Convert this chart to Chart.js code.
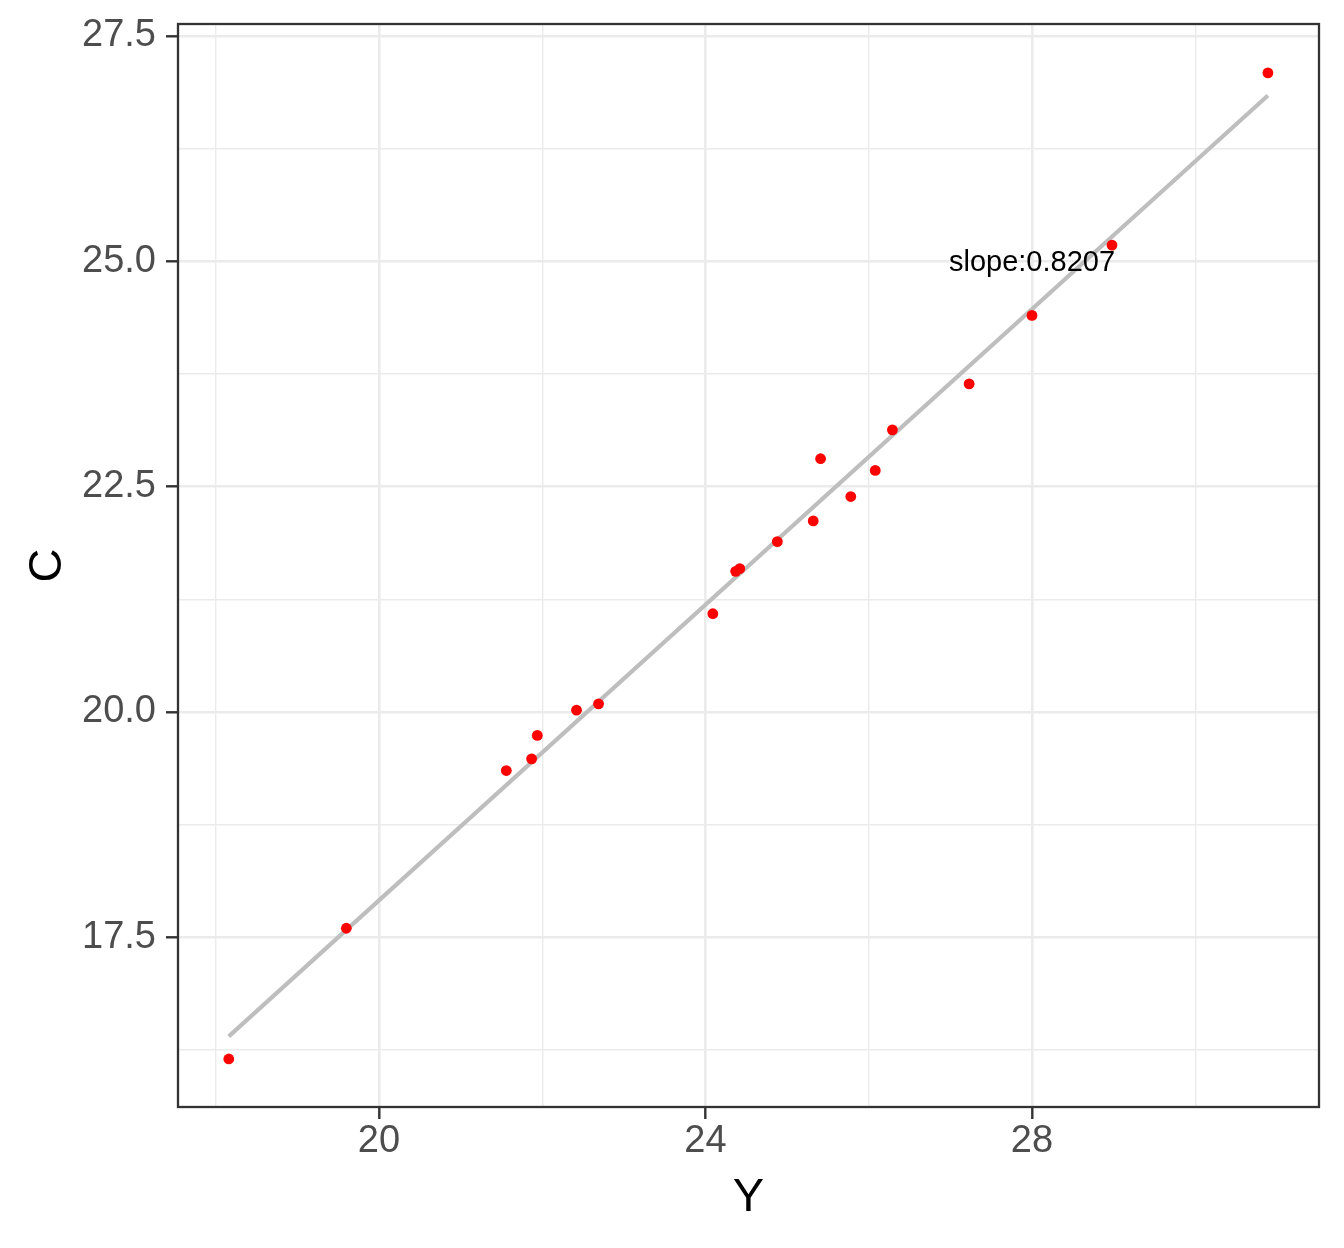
<!DOCTYPE html>
<html lang="en">
<head>
    <meta charset="UTF-8">
    <title>C vs Y</title>
    <style>
        html, body { margin: 0; padding: 0; background: #ffffff; }
        .wrap { width: 1344px; height: 1248px; }
    </style>
</head>
<body>
    <div class="wrap">
        <canvas id="scatterChart" width="1344" height="1248"></canvas>
    </div>

    <script src="https://cdn.jsdelivr.net/npm/chart.js"></script>
<script>
    // values
    const yValues = [18.16, 19.60, 21.56, 21.87, 21.94, 22.42, 22.69, 24.09, 24.37, 24.42,
                     24.88, 25.32, 25.41, 25.78, 26.08, 26.29, 27.23, 28.00, 28.98, 30.89];
    const cValues = [16.15, 17.60, 19.35, 19.48, 19.74, 20.02, 20.09, 21.09, 21.56, 21.59,
                     21.89, 22.12, 22.81, 22.39, 22.68, 23.13, 23.64, 24.40, 25.18, 27.09];

    // fitted line, ends
    const fitY = [18.16, 30.89];
    const fitC = [16.40, 26.84];

    const xMajorTicks = [20, 24, 28];
    const xMinorTicks = [18, 22, 26, 30];
    const yMajorTicks = [17.5, 20.0, 22.5, 25.0, 27.5];
    const yMinorTicks = [16.25, 18.75, 21.25, 23.75, 26.25];

    const slopeLabel = 'slope:0.8207';
    const slopeAt = { x: 28.0, y: 24.98 };

    const FONT = "'Liberation Sans', Arial, sans-serif";

    // panel border + annotation
    const panelPlugin = {
        id: 'panel',
        afterDatasetsDraw(chart) {
            const ctx = chart.ctx;
            const area = chart.chartArea;
            const xs = chart.scales.x;
            const ys = chart.scales.y;
            ctx.save();
            ctx.font = '29px ' + FONT;
            ctx.fillStyle = '#000000';
            ctx.textAlign = 'center';
            ctx.textBaseline = 'middle';
            ctx.fillText(slopeLabel, xs.getPixelForValue(slopeAt.x), ys.getPixelForValue(slopeAt.y));
            ctx.strokeStyle = '#333333';
            ctx.lineWidth = 2.3;
            ctx.strokeRect(area.left, area.top, area.right - area.left, area.bottom - area.top);
            ctx.restore();
        }
    };

    const points = yValues.map((v, i) => ({ x: v, y: cValues[i] }));
    const fitLine = fitY.map((v, i) => ({ x: v, y: fitC[i] }));

    function isMajor(list, value) {
        return list.some(t => Math.abs(t - value) < 1e-6);
    }

    const ctx = document.getElementById('scatterChart').getContext('2d');
    const chart = new Chart(ctx, {
        type: 'scatter',
        data: {
            datasets: [{
                label: 'fit',
                type: 'line',
                data: fitLine,
                borderColor: '#bebebe',
                borderWidth: 4.2,
                pointRadius: 0,
                fill: false,
                order: 2
            }, {
                label: 'points',
                data: points,
                backgroundColor: '#ff0000',
                borderWidth: 0,
                pointRadius: 5.4,
                order: 1
            }]
        },
        options: {
            responsive: false,
            animation: false,
            layout: { padding: { left: 0, top: 24, right: 25, bottom: 0 } },
            plugins: {
                legend: { display: false },
                tooltip: { enabled: false }
            },
            scales: {
                x: {
                    type: 'linear',
                    min: 17.538,
                    max: 31.516,
                    afterBuildTicks(scale) {
                        scale.ticks = xMinorTicks.concat(xMajorTicks).sort((a, b) => a - b).map(v => ({ value: v }));
                    },
                    afterFit(scale) {
                        scale.height = 141;
                        scale.paddingLeft = 0;
                        scale.paddingRight = 0;
                    },
                    grid: {
                        color: '#ebebeb',
                        lineWidth: c => isMajor(xMajorTicks, c.tick.value) ? 2.6 : 1.4,
                        tickColor: c => isMajor(xMajorTicks, c.tick.value) ? '#333333' : 'rgba(0,0,0,0)',
                        tickLength: 12,
                        tickWidth: 2.4,
                        drawOnChartArea: true
                    },
                    border: { display: false },
                    ticks: {
                        color: '#4d4d4d',
                        font: { family: FONT, size: 38 },
                        padding: 0,
                        maxRotation: 0,
                        autoSkip: false,
                        callback: v => isMajor(xMajorTicks, v) ? String(v) : ''
                    },
                    title: {
                        display: true,
                        text: 'Y',
                        color: '#000000',
                        font: { family: FONT, size: 47 },
                        padding: { top: 0, bottom: 22 }
                    }
                },
                y: {
                    type: 'linear',
                    min: 15.617,
                    max: 27.633,
                    afterBuildTicks(scale) {
                        scale.ticks = yMinorTicks.concat(yMajorTicks).sort((a, b) => a - b).map(v => ({ value: v }));
                    },
                    afterFit(scale) {
                        scale.width = 178;
                        scale.paddingTop = 0;
                        scale.paddingBottom = 0;
                    },
                    grid: {
                        color: '#ebebeb',
                        lineWidth: c => isMajor(yMajorTicks, c.tick.value) ? 2.6 : 1.4,
                        tickColor: c => isMajor(yMajorTicks, c.tick.value) ? '#333333' : 'rgba(0,0,0,0)',
                        tickLength: 12,
                        tickWidth: 2.4
                    },
                    border: { display: false },
                    ticks: {
                        color: '#4d4d4d',
                        font: { family: FONT, size: 38 },
                        padding: 10,
                        autoSkip: false,
                        callback: v => isMajor(yMajorTicks, v) ? v.toFixed(1) : ''
                    },
                    title: {
                        display: true,
                        text: 'C',
                        color: '#000000',
                        font: { family: FONT, size: 47 },
                        padding: { top: 20, bottom: 0 }
                    }
                }
            }
        },
        plugins: [panelPlugin]
    });
</script>

</body>
</html>
